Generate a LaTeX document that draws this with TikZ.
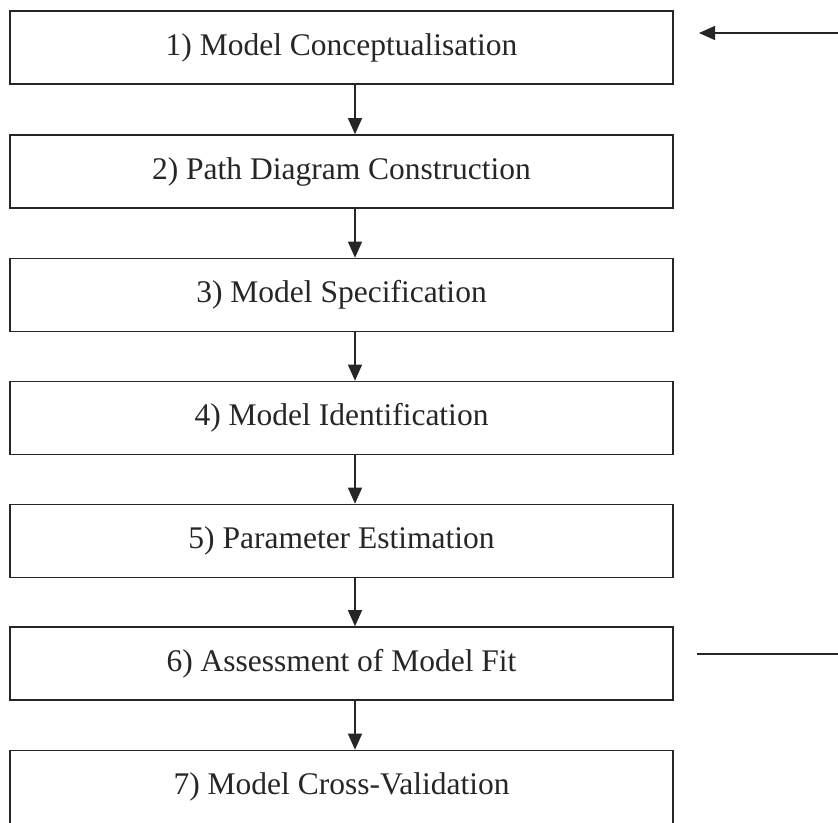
\documentclass[tikz,border=0pt]{standalone}
\usepackage{fontspec}
\setmainfont{Liberation Serif}
\usetikzlibrary{arrows.meta}
\begin{document}
\begin{tikzpicture}[x=1pt,y=-1pt,
  stage/.style={draw=black!85, line width=1.6pt, minimum width=663pt,
    minimum height=73pt, inner sep=0pt, font=\fontsize{31.5}{36}\selectfont,
    text=black!85},
  flow/.style={draw=black!85, line width=1.4pt,
    -{Triangle[length=16pt,width=14pt]}}]
\useasboundingbox (0,0) rectangle (838,822);
% the seven stages, top to bottom
\node[stage] (s1) at (341.5,47.5)  {1) Model Conceptualisation};
\node[stage] (s2) at (341.5,171.5) {2) Path Diagram Construction};
\node[stage] (s3) at (341.5,295)   {3) Model Specification};
\node[stage] (s4) at (341.5,418)   {4) Model Identification};
\node[stage] (s5) at (341.5,541)   {5) Parameter Estimation};
\node[stage] (s6) at (341.5,663.5) {6) Assessment of Model Fit};
\node[stage] (s7) at (341.5,787)   {7) Model Cross-Validation};
% downward connectors, slightly right of centre
\foreach \a/\b in {s1/s2,s2/s3,s3/s4,s4/s5,s5/s6,s6/s7}
  \draw[flow] (\a.south -| 355,0) -- (\b.north -| 355,0);
% feedback stubs on the right
\coordinate (fin)  at (840,33);
\coordinate (fout) at (840,654);
\coordinate (fend) at (697,654);
\draw[flow] (fin) -- (699,33);
\draw[draw=black!85, line width=1.4pt] (fend) -- (fout);
\end{tikzpicture}
\end{document}
